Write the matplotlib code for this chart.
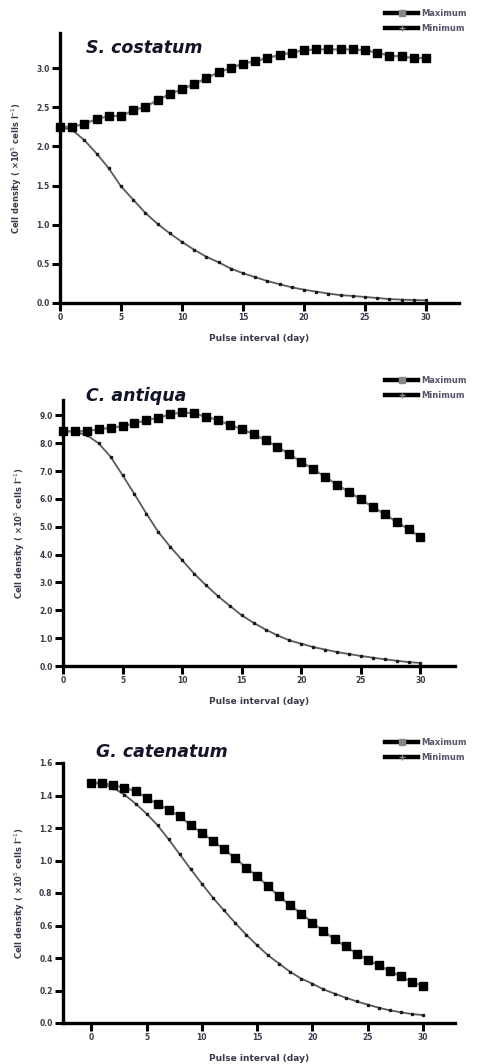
import numpy as np
import matplotlib.pyplot as plt
from matplotlib.lines import Line2D

W, H = 483, 1064
days = list(range(31))

# S. costatum
sc_max = [2.25, 2.25, 2.29, 2.35, 2.39, 2.39, 2.46, 2.51, 2.59, 2.67, 2.73,
          2.80, 2.87, 2.95, 3.00, 3.06, 3.09, 3.13, 3.17, 3.20, 3.23,
          3.24, 3.24, 3.24, 3.24, 3.23, 3.20, 3.16, 3.15, 3.13, 3.13]
sc_min = [2.25, 2.21, 2.08, 1.91, 1.72, 1.49, 1.32, 1.15, 1.01, 0.89, 0.78,
          0.68, 0.59, 0.52, 0.44, 0.38, 0.33, 0.28, 0.24, 0.20, 0.17,
          0.145, 0.12, 0.10, 0.09, 0.077, 0.064, 0.05, 0.043, 0.038, 0.034]

# C. antiqua
ca_max = [8.43, 8.43, 8.43, 8.50, 8.55, 8.61, 8.71, 8.83, 8.91, 9.03, 9.11,
          9.07, 8.95, 8.83, 8.65, 8.51, 8.32, 8.11, 7.87, 7.60, 7.33,
          7.07, 6.79, 6.51, 6.25, 5.98, 5.71, 5.45, 5.17, 4.91, 4.63]
ca_min = [8.43, 8.41, 8.29, 7.99, 7.51, 6.85, 6.17, 5.47, 4.81, 4.28, 3.80,
          3.32, 2.90, 2.51, 2.16, 1.82, 1.55, 1.31, 1.10, 0.92, 0.80,
          0.68, 0.59, 0.50, 0.43, 0.36, 0.30, 0.24, 0.19, 0.14, 0.11]

# G. catenatum
gc_max = [1.479, 1.479, 1.463, 1.448, 1.426, 1.387, 1.346, 1.313, 1.272, 1.216, 1.171,
          1.120, 1.069, 1.015, 0.956, 0.903, 0.841, 0.779, 0.724, 0.673, 0.617,
          0.566, 0.515, 0.472, 0.427, 0.390, 0.355, 0.320, 0.287, 0.252, 0.228]
gc_min = [1.479, 1.469, 1.446, 1.405, 1.350, 1.288, 1.216, 1.130, 1.038, 0.946, 0.857,
          0.771, 0.693, 0.617, 0.544, 0.478, 0.416, 0.365, 0.314, 0.273, 0.242,
          0.207, 0.181, 0.156, 0.133, 0.113, 0.094, 0.078, 0.066, 0.055, 0.049]

x_ticks = [0, 5, 10, 15, 20, 25, 30]

panels = [
    # name, max, min, box (l, t, r, b px), xlim, ylim, yticks, title pos, legend top
    ("S. costatum", sc_max, sc_min, (60, 33, 459, 303), (0, 32.7), (0, 3.45),
     [0.0, 0.5, 1.0, 1.5, 2.0, 2.5, 3.0], (86, 48), 9),
    ("C. antiqua", ca_max, ca_min, (63, 400, 455, 666), (0, 32.9), (0, 9.55),
     [0, 1, 2, 3, 4, 5, 6, 7, 8, 9], (86, 396), 376),
    ("G. catenatum", gc_max, gc_min, (63, 763, 455, 1023), (-2.56, 32.9), (0, 1.6),
     [0.0, 0.2, 0.4, 0.6, 0.8, 1.0, 1.2, 1.4, 1.6], (96, 752), 738),
]

fig = plt.figure(figsize=(W / 100, H / 100), dpi=100)
fig.patch.set_facecolor('white')

txt = '#3a3a4a'

for name, ymax, ymin, box, xl, yl, yt, tpos, legtop in panels:
    l, t, r, b = box
    ax = fig.add_axes([l / W, 1 - b / H, (r - l) / W, (b - t) / H])
    ax.plot(days, ymin, color='#5a5a5a', lw=1.3, marker='s', ms=2.0,
            mfc='#1a1a1a', mec='#1a1a1a', clip_on=False, zorder=3)
    ax.plot(days, ymax, color='#7a7a7a', lw=1.6, marker='s', ms=5.5,
            mfc='black', mec='black', clip_on=False, zorder=4)
    ax.set_xlim(*xl)
    ax.set_ylim(*yl)
    ax.set_xticks(x_ticks)
    ax.set_yticks(yt)
    ax.set_yticklabels(['%.1f' % v for v in yt])
    for s in ['top', 'right']:
        ax.spines[s].set_visible(False)
    for s in ['left', 'bottom']:
        ax.spines[s].set_linewidth(2.4)
    ax.tick_params(direction='out', length=5.5, width=2.2, labelsize=5.5,
                   labelcolor=txt, pad=2)
    for lab in ax.get_xticklabels() + ax.get_yticklabels():
        lab.set_fontweight('bold')
    ax.set_xlabel('Pulse interval (day)', fontsize=6.5, color=txt,
                  fontweight='bold', labelpad=8)
    ax.set_ylabel('Cell density ( ×10$^5$ cells l$^{-1}$)', fontsize=6,
                  color=txt, fontweight='bold', labelpad=9)
    fig.text(tpos[0] / W, 1 - tpos[1] / H, name, fontsize=12.5,
             fontweight='bold', fontstyle='italic', color='#141428',
             va='center', ha='left')

    h_max = Line2D([], [], color='black', lw=3.2, marker='s', ms=4.5,
                   mfc='#888888', mec='#888888')
    h_min = Line2D([], [], color='black', lw=3.2, marker='+', ms=4,
                   mec='#888888')
    ax.legend([h_max, h_min], ['Maximum', 'Minimum'], loc='upper left',
              bbox_to_anchor=(385 / W, 1 - legtop / H),
              bbox_transform=fig.transFigure, frameon=False,
              prop={'size': 6, 'weight': 'bold'}, labelcolor='#55556a',
              handlelength=4.0, handletextpad=0.3, borderpad=0,
              borderaxespad=0, labelspacing=0.7)

fig.savefig('out.png', dpi=100)
